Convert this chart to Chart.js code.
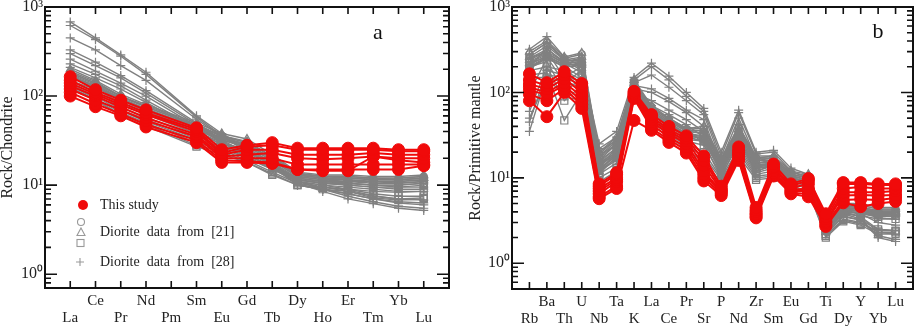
<!DOCTYPE html>
<html>
<head>
<meta charset="utf-8">
<script src="https://cdn.jsdelivr.net/npm/chart.js@4.4.1/dist/chart.umd.min.js"></script>
<style>
  body { margin: 0; background: #fff; }
  .panel { position: absolute; top: 0; width: 460px; height: 328px; }
</style>
</head>
<body>
<div class="panel" style="left:0"><canvas id="chart-a" width="460" height="328"></canvas></div>
<div class="panel" style="left:460px"><canvas id="chart-b" width="460" height="328"></canvas></div>
<script>
// element order on the x axes
const reeLabels = ["La", "Ce", "Pr", "Nd", "Pm", "Sm", "Eu", "Gd", "Tb", "Dy", "Ho", "Er", "Tm", "Yb", "Lu"];
const spiderLabels = ["Rb", "Ba", "Th", "U", "Nb", "Ta", "K", "La", "Ce", "Pr", "Sr", "P", "Nd", "Zr", "Sm", "Eu", "Gd", "Ti", "Dy", "Y", "Yb", "Lu"];
const decadeTicks = [1, 10, 100, 1000];

// chondrite normalised REE (Pm not analysed -> null)
const reeThisStudy = [
  [165, 118, 90, 70, null, 44, 25, 28, 30, 26, 26, 26, 26, 25, 25],
  [150, 110, 85, 65, null, 42, 23, 27, 28, 25, 25, 25, 25, 24, 24],
  [140, 105, 80, 62, null, 40, 22, 25, 25, 22, 22, 22, 23, 22, 22],
  [130, 100, 75, 57, null, 37, 21, 22, 23, 20, 19.5, 20, 21, 20, 20],
  [120, 90, 70, 53, null, 35, 20, 20, 20, 17, 17, 17, 17, 17, 17],
  [110, 82, 63, 48, null, 32, 19, 18.5, 18, 15, 15, 15, 15, 15, 16.5],
  [100, 76, 60, 45, null, 30, 18, 18, 17.5, 15, 14.5, 14.5, 21, 19, 18]
];
const reeTriangle21 = [
  [200, 150, 105, 80, null, 50, 38, 33, 22, 14, 13, 13, 12.5, 12.5, 13],
  [190, 145, 100, 78, null, 48, 36, 31, 21, 13.5, 12.5, 12.5, 12, 12, 12.5],
  [180, 140, 98, 75, null, 47, 35, 30, 21, 13.5, 12.5, 12, 12, 11.5, 12],
  [175, 135, 95, 72, null, 45, 34, 29, 20, 13, 12, 12, 11.5, 11.5, 12],
  [170, 130, 92, 70, null, 44, 33, 28, 20, 13, 12, 11.5, 11, 11, 11.5],
  [165, 128, 90, 68, null, 42, 32, 27, 19, 12.5, 11.5, 11, 11, 10.5, 11]
];
const reeSquare21 = [
  [150, 110, 75, 58, null, 35, 28, 22, 16, 12, 11, 10.5, 10, 10, 10.5],
  [140, 105, 70, 55, null, 33, 27, 21, 15, 11.5, 10.5, 10, 9.5, 9.5, 10],
  [135, 100, 68, 52, null, 32, 26, 20, 15, 11, 10, 9, 8, 7.5, 7.5],
  [130, 95, 65, 50, null, 30, 25, 19, 14, 10.5, 9.5, 8.8, 7.6, 7, 7.2],
  [125, 92, 62, 48, null, 28, 24, 18, 13.5, 10, 9, 8.5, 7.2, 6.8, 7],
  [120, 90, 60, 46, null, 27, 22, 18, 13, 10, 9.5, 9, 8.5, 8.3, 8.5]
];
const reeCircle21 = [
  [185, 140, 100, 76, null, 46, 36, 30, 21, 13.5, 12.5, 12.5, 12, 12, 12.5],
  [170, 130, 94, 72, null, 44, 34, 28, 20, 13, 12, 12, 11.5, 11.5, 12],
  [160, 125, 90, 68, null, 42, 32, 27, 19, 12.5, 11.5, 11.5, 11, 11, 11.5],
  [150, 118, 85, 65, null, 40, 30, 25, 18, 12, 11, 11, 10.5, 10.5, 11],
  [145, 112, 82, 62, null, 38, 29, 24, 17, 11.5, 10.5, 10.5, 10, 10, 10.5]
];
const reePlus28 = [
  [680, 450, 290, 185, null, 60, 38, 26, 18, 11, 9, 7.5, 6.5, 5.8, 5.5],
  [620, 430, 280, 175, null, 58, 36, 25, 17, 10.5, 8.5, 7, 6.2, 5.5, 5.2],
  [450, 330, 220, 150, null, 55, 35, 24, 17, 10, 9, 8, 7, 6.5, 6.3],
  [330, 240, 170, 115, null, 50, 32, 23, 17, 11, 9.5, 8.5, 7.5, 7, 6.8],
  [300, 220, 160, 108, null, 48, 31, 22, 16, 10, 9, 8, 7, 6.3, 6],
  [260, 190, 140, 100, null, 46, 30, 22, 16, 11, 10, 9.5, 9, 8.5, 8.5],
  [230, 175, 130, 90, null, 44, 30, 21, 17, 12, 11, 10.5, 10, 9.5, 9.5],
  [210, 160, 120, 85, null, 42, 28, 20, 16, 11.5, 10.5, 10, 9.5, 9, 9]
];

// primitive mantle normalised trace elements
const spiderThisStudy = [
  [165, 130, 175, 127, 8.5, 11.5, 103, 55, 40, 31, 18, 8, 23, 4.5, 14.5, 8.5, 9.8, 3.8, 8.8, 8.8, 8.5, 8.5],
  [140, 120, 160, 115, 8, 11, 98, 52, 37, 29, 16, 7.5, 21, 4.2, 13.5, 8, 9.3, 3.5, 8.5, 8.5, 8.3, 8.2],
  [125, 110, 145, 100, 7.5, 10, 95, 48, 35, 27, 14, 7.2, 20, 4, 13, 7.6, 8.5, 3.3, 7.5, 7.8, 7.5, 7.5],
  [115, 100, 130, 90, 7, 9.5, 90, 45, 33, 25, 12, 7, 19, 3.8, 12, 7.2, 7.5, 3.1, 6.8, 6.8, 6.8, 7],
  [105, 95, 120, 80, 6.5, 9, 88, 42, 30, 23, 11, 6.8, 18, 3.7, 11.5, 7, 7, 3, 6.2, 6.3, 6.2, 6.3],
  [95, 80, 110, 72, 6, 8, 85, 38, 28, 21, 10, 6.5, 17, 3.5, 11, 6.7, 6.5, 2.8, 5.5, 5.6, 5.5, 5.8],
  [80, 52, 100, 65, 5.7, 7.5, 47, 36, 26, 19.5, 9.2, 6.2, 16, 3.4, 10.5, 6.5, 6, 2.7, 5.1, 4.6, 5, 5.3]
];
const spiderTriangle21 = [
  [300, 400, 260, 290, 20, 30, 140, 70, 50, 38, 40, 17, 40, 18, 18, 12, 11, 3.2, 5, 5, 4.5, 4.5],
  [260, 350, 240, 260, 18, 27, 130, 66, 48, 36, 36, 16, 37, 17, 17, 11.5, 10.5, 3, 4.8, 4.8, 4.3, 4.3],
  [240, 300, 230, 240, 16, 25, 125, 63, 46, 35, 33, 15, 35, 16, 16, 11, 10, 2.9, 4.6, 4.6, 4.1, 4.1],
  [220, 280, 220, 230, 14, 22, 120, 60, 44, 33, 30, 14, 32, 15, 15, 10.5, 9.5, 2.7, 4.4, 4.4, 4, 4],
  [200, 260, 210, 220, 12, 20, 115, 58, 42, 32, 28, 13, 30, 14, 14, 10, 9, 2.5, 4.2, 4.2, 3.8, 3.9],
  [190, 250, 200, 210, 11, 18, 110, 55, 40, 31, 26, 12, 28, 13, 13.5, 9.5, 8.5, 2.3, 4, 4, 3.7, 3.8]
];
const spiderSquare21 = [
  [250, 300, 150, 200, 15, 20, 130, 55, 40, 30, 30, 13, 28, 12, 14, 10, 9, 2.5, 4, 3.8, 3.5, 3.6],
  [220, 260, 130, 180, 14, 19, 125, 52, 38, 28, 27, 12, 26, 11.5, 13, 9.5, 8.5, 2.4, 3.8, 3.6, 3.3, 3.3],
  [200, 230, 100, 150, 12, 17, 120, 50, 36, 27, 24, 11, 24, 11, 12, 9, 8, 2.2, 3.5, 3.2, 2.5, 2.4],
  [180, 200, 80, 120, 11, 15, 110, 47, 34, 26, 20, 10, 22, 10.5, 11, 8.5, 7.5, 2.1, 3.3, 3, 2.3, 2.3],
  [160, 170, 47, 100, 10, 13, 105, 45, 32, 24, 18, 9.5, 20, 10, 10.5, 8, 7, 2, 3.1, 2.8, 2.2, 2.2],
  [150, 150, 90, 80, 9, 12, 100, 42, 30, 22, 15, 9, 18, 9.5, 10, 8, 7, 2.1, 3.2, 2.9, 2.4, 2.4]
];
const spiderCircle21 = [
  [280, 380, 250, 280, 19, 28, 135, 68, 48, 37, 38, 16, 38, 17, 17, 11.5, 10.5, 3, 4.8, 4.8, 4.3, 4.3],
  [250, 320, 230, 250, 17, 25, 128, 64, 46, 35, 34, 15, 35, 16, 16, 11, 10, 2.8, 4.6, 4.5, 4.1, 4.1],
  [230, 290, 220, 230, 15, 23, 122, 61, 44, 33, 31, 14, 32, 15, 15, 10.5, 9.5, 2.6, 4.4, 4.3, 3.9, 3.9],
  [210, 270, 210, 215, 13, 21, 118, 58, 42, 32, 29, 13, 30, 14, 14.5, 10, 9, 2.5, 4.2, 4.1, 3.7, 3.8],
  [195, 255, 200, 205, 12, 19, 112, 56, 40, 30, 27, 12.5, 28, 13.5, 14, 9.8, 8.8, 2.4, 4, 3.9, 3.6, 3.7]
];
const spiderPlus28 = [
  [320, 450, 260, 200, 25, 35, 150, 220, 155, 100, 65, 20, 62, 20, 21, 13, 11, 2.5, 4, 3.5, 2.3, 2.2],
  [280, 380, 240, 180, 22, 30, 140, 200, 140, 90, 60, 18, 58, 19, 20, 12, 10, 2.3, 3.8, 3.3, 2.1, 1.9],
  [200, 330, 220, 170, 20, 28, 130, 160, 115, 80, 55, 16, 50, 17, 18, 11, 10, 2.2, 3.6, 3.2, 2, 1.8],
  [100, 250, 200, 150, 18, 25, 120, 110, 85, 62, 48, 14, 42, 16, 17, 10.5, 9.5, 2.4, 4, 3.5, 2.5, 2.4],
  [60, 200, 180, 140, 16, 22, 110, 100, 78, 58, 40, 13, 38, 15, 16, 10, 9, 2.5, 4.2, 3.8, 3, 2.8],
  [45, 180, 160, 130, 14, 20, 100, 80, 62, 48, 35, 12, 35, 14, 15, 10, 9, 2.6, 4.5, 4, 3.4, 3.3],
  [35, 160, 150, 120, 13, 18, 95, 70, 55, 42, 30, 11, 30, 13, 14, 9.5, 8.5, 2.8, 4.6, 4.2, 3.6, 3.5],
  [50, 140, 140, 110, 12, 16, 90, 65, 50, 38, 25, 10, 28, 12, 14, 9, 8.5, 3, 4.8, 4.4, 3.8, 3.7]
];

const RED = "rgb(240,10,10)";
const GRAY = "rgb(128,128,128)";
const SERIF = "'Liberation Serif', 'Times New Roman', serif";
const sup = ["\u2070", "\u00b9", "\u00b2", "\u00b3"];

// turn a row of values into {x, y} points on the index axis
function toPoints(row) {
  return row.map((v, i) => ({ x: i, y: v }));
}

function grayDatasets(rows, style, radius) {
  return rows.map((row) => ({
    data: toPoints(row),
    borderColor: GRAY,
    borderWidth: 1.4,
    pointStyle: style,
    pointRadius: radius,
    pointBorderColor: GRAY,
    pointBackgroundColor: "rgba(255,255,255,0)",
    pointBorderWidth: 1.2,
    spanGaps: true,
    order: 2,
  }));
}

function redDatasets(rows) {
  return rows.map((row) => ({
    data: toPoints(row),
    borderColor: RED,
    borderWidth: 2,
    pointStyle: "circle",
    pointRadius: 6,
    pointBorderColor: RED,
    pointBackgroundColor: RED,
    pointBorderWidth: 1,
    spanGaps: true,
    order: 0,
  }));
}

// frame with inward ticks on all four sides, panel letter and legend
const framePlugin = {
  id: "frame",
  afterDraw(chart, args, opts) {
    const { ctx, chartArea: a } = chart;
    const x = chart.scales.x;
    const y = chart.scales.y;
    ctx.save();
    ctx.strokeStyle = "#111";
    ctx.lineWidth = 1.6;
    ctx.beginPath();
    x.ticks.forEach((t) => {
      const px = x.getPixelForValue(t.value);
      ctx.moveTo(px, a.bottom);
      ctx.lineTo(px, a.bottom - 7);
      ctx.moveTo(px, a.top);
      ctx.lineTo(px, a.top + 7);
    });
    for (let e = -1; e <= 3; e++) {
      for (let m = 1; m <= 9; m++) {
        const v = m * Math.pow(10, e);
        if (v < y.min || v > y.max) continue;
        const py = y.getPixelForValue(v);
        const len = m === 1 ? 12 : 6;
        ctx.moveTo(a.left, py);
        ctx.lineTo(a.left + len, py);
        ctx.moveTo(a.right, py);
        ctx.lineTo(a.right - len, py);
      }
    }
    ctx.stroke();
    ctx.lineWidth = 2;
    ctx.strokeRect(a.left, a.top, a.right - a.left, a.bottom - a.top);

    ctx.fillStyle = "#111";
    ctx.font = "22px " + SERIF;
    ctx.textAlign = "center";
    ctx.textBaseline = "middle";
    ctx.fillText(opts.letter, opts.letterX, opts.letterY);

    if (opts.legend) {
      ctx.font = "14px " + SERIF;
      ctx.textAlign = "left";
      ctx.fillStyle = "#222";
      ctx.fillText("This study", 100, 205);
      ctx.fillText("Diorite  data  from  [21]", 100, 232);
      ctx.fillText("Diorite  data  from  [28]", 100, 262);

      ctx.fillStyle = RED;
      ctx.beginPath();
      ctx.arc(83, 205, 5, 0, Math.PI * 2);
      ctx.fill();

      ctx.strokeStyle = "#999";
      ctx.lineWidth = 1.1;
      ctx.beginPath();
      ctx.arc(81, 222, 3.5, 0, Math.PI * 2);
      ctx.stroke();
      ctx.beginPath();
      ctx.moveTo(81, 228);
      ctx.lineTo(85, 235.5);
      ctx.lineTo(77, 235.5);
      ctx.closePath();
      ctx.stroke();
      ctx.strokeRect(77, 239.5, 7, 7);
      ctx.beginPath();
      ctx.moveTo(76, 262);
      ctx.lineTo(84, 262);
      ctx.moveTo(80, 258);
      ctx.lineTo(80, 266);
      ctx.stroke();
    }
    ctx.restore();
  },
};

function makePanel(canvasId, labels, groups, cfg) {
  const datasets = [
    ...redDatasets(groups.red),
    ...grayDatasets(groups.circle, "circle", 3.5),
    ...grayDatasets(groups.triangle, "triangle", 4.5),
    ...grayDatasets(groups.square, "rect", 5),
    ...grayDatasets(groups.plus, "cross", 4.5),
  ];

  return new Chart(document.getElementById(canvasId), {
    type: "line",
    data: { datasets },
    plugins: [framePlugin],
    options: {
      responsive: false,
      animation: false,
      devicePixelRatio: 1,
      layout: { padding: cfg.padding },
      plugins: {
        legend: { display: false },
        tooltip: { enabled: false },
        frame: { letter: cfg.letter, letterX: cfg.letterX, letterY: cfg.letterY, legend: cfg.legend },
      },
      scales: {
        x: {
          type: "linear",
          min: -1,
          max: labels.length,
          grid: { display: false, drawTicks: false },
          border: { display: false },
          afterBuildTicks: (s) => {
            s.ticks = labels.map((_, i) => ({ value: i }));
          },
          afterFit: (s) => {
            s.height = cfg.xHeight;
            s.paddingLeft = 0;
            s.paddingRight = 0;
          },
          ticks: {
            autoSkip: false,
            maxRotation: 0,
            padding: 4,
            color: "#222",
            font: { family: SERIF, size: 15, lineHeight: 1.15 },
            callback: (v) => (v % 2 === 1 ? [labels[v], ""] : ["", labels[v]]),
          },
        },
        y: {
          type: "logarithmic",
          min: cfg.yMin,
          max: 1000,
          grid: { display: false, drawTicks: false },
          border: { display: false },
          afterBuildTicks: (s) => {
            s.ticks = decadeTicks.map((v) => ({ value: v }));
          },
          afterFit: (s) => {
            s.width = cfg.yWidth;
            s.paddingTop = 0;
            s.paddingBottom = 0;
          },
          ticks: {
            padding: 2,
            color: "#222",
            font: { family: SERIF, size: 16 },
            callback: (v) => "10" + sup[Math.round(Math.log10(v))],
          },
          title: {
            display: true,
            text: cfg.yTitle,
            color: "#222",
            font: { family: SERIF, size: 16 },
            padding: { top: cfg.titlePad, bottom: 0 },
          },
        },
      },
    },
  });
}

makePanel(
  "chart-a",
  reeLabels,
  { red: reeThisStudy, circle: reeCircle21, triangle: reeTriangle21, square: reeSquare21, plus: reePlus28 },
  {
    padding: { top: 6, right: 11, bottom: 0, left: 0 },
    xHeight: 40,
    yWidth: 45,
    yMin: 0.716,
    yTitle: "Rock/Chondrite",
    titlePad: -2,
    letter: "a",
    letterX: 378,
    letterY: 33,
    legend: true,
  }
);

makePanel(
  "chart-b",
  spiderLabels,
  { red: spiderThisStudy, circle: spiderCircle21, triangle: spiderTriangle21, square: spiderSquare21, plus: spiderPlus28 },
  {
    padding: { top: 5, right: 3, bottom: 0, left: 0 },
    xHeight: 39,
    yWidth: 52,
    yMin: 0.5,
    yTitle: "Rock/Primitive mantle",
    titlePad: 6,
    letter: "b",
    letterX: 418,
    letterY: 32,
    legend: false,
  }
);
</script>
</body>
</html>
